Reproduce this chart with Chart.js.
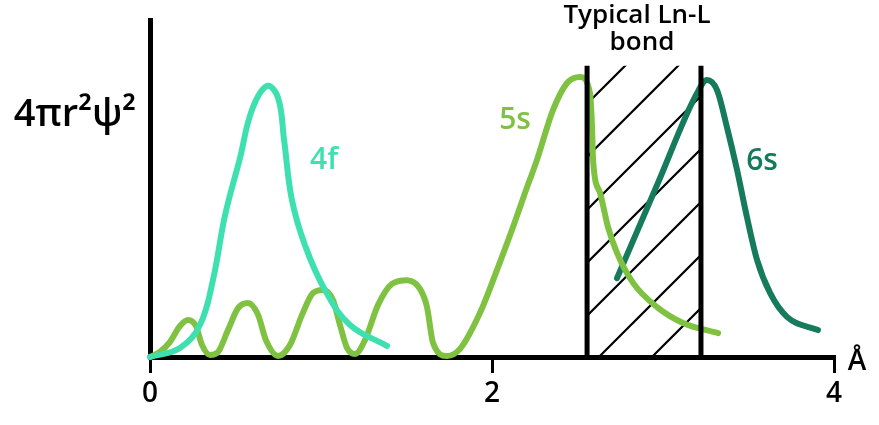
<!DOCTYPE html>
<html>
<head>
<meta charset="utf-8">
<script src="https://cdn.jsdelivr.net/npm/chart.js@4.4.0/dist/chart.umd.min.js"></script>
<style>
html,body{margin:0;padding:0;background:#fff;}
#wrap{width:879px;height:425px;}
</style>
</head>
<body>
<div id="wrap"><canvas id="c" width="879" height="425"></canvas></div>
<script>
// ---- data (x in Å, y in relative units 0..100) ----
const xTicks = [0, 2, 4];
const f4X = [0,0.175,0.292,0.368,0.439,0.526,0.596,0.684,0.749,0.784,0.830,0.906,1.023,1.170,1.386];
const f4Y = [0,2.7,9.5,22.8,42.1,59.0,73.3,80.4,76.9,64.4,46.6,33.2,19.9,9.5,3.3];
const s5X = [0,0.058,0.117,0.175,0.222,0.269,0.304,0.351,0.398,0.456,0.515,0.573,0.632,0.678,0.749,0.819,0.889,0.953,1.012,1.070,1.111,1.152,1.199,1.257,1.333,1.415,1.503,1.579,1.620,1.655,1.737,1.813,1.930,2.029,2.123,2.193,2.263,2.357,2.439,2.515,2.573,2.585,2.591,2.632,2.678,2.731,2.825,2.965,3.117,3.322];
const s5Y = [0,1.5,4.5,9.2,11.0,9.2,3.6,0.6,1.5,8.0,14.5,16.0,12.5,5.0,0.3,3.6,12.5,19.0,19.9,16.9,9.5,2.7,0.9,5.0,15.4,21.7,22.8,20.2,14.8,4.2,0.3,2.4,13.1,25.8,38.6,48.7,58.5,73.3,81.3,83.1,78.3,68.2,58.5,48.7,38.6,30.9,22.0,14.8,10.1,7.1];
const s6X = [2.731,2.965,3.199,3.257,3.316,3.374,3.433,3.491,3.550,3.626,3.725,3.906];
const s6Y = [23.4,51.0,78.3,82.2,79.2,68.2,55.5,41.5,28.8,19.0,11.9,8.0];
const bondBand = [2.556, 3.222];      // typical Ln-L bond region (Å)
const bondTop = 86.4;
const labelTexts = ["4f", "5s", "6s", "Typical Ln-L", "bond", "Å", "4πr²ψ²"];
const labelX = [1.018, 2.135, 3.579, 2.848, 2.877, 4.135, -0.439];
const labelY = [58.2, 70.3, 57.9, 101.4, 93.4, -1.5, 71.8];
const labelColors = ["#3ee0b0", "#7fc241", "#167a5c", "#000", "#000", "#000", "#000"];
const labelSizes = [30, 30, 30, 26, 26, 28, 38];

const pts = (xs, ys) => xs.map((x, i) => ({x, y: ys[i]}));
const FONT = "'Open Sans', 'DejaVu Sans', sans-serif";

const hatchPlugin = {
  id: 'hatch',
  beforeDatasetsDraw(chart) {
    const {ctx, scales: {x, y}} = chart;
    const l = x.getPixelForValue(bondBand[0]), r = x.getPixelForValue(bondBand[1]);
    const t = y.getPixelForValue(bondTop), b = y.getPixelForValue(0);
    ctx.save();
    ctx.beginPath(); ctx.rect(l, t, r - l, b - t); ctx.clip();
    ctx.strokeStyle = '#000'; ctx.lineWidth = 2.2;
    const step = 53;
    for (let y0 = t + 38; y0 < b + (r - l) + step; y0 += step) {
      ctx.beginPath(); ctx.moveTo(l, y0); ctx.lineTo(r, y0 - (r - l)); ctx.stroke();
    }
    ctx.restore();
  }
};
const labelPlugin = {
  id: 'labels',
  afterDraw(chart) {
    const {ctx, scales: {x, y}} = chart;
    ctx.save();
    ctx.textAlign = 'center'; ctx.textBaseline = 'middle';
    labelTexts.forEach((t, i) => {
      ctx.fillStyle = labelColors[i];
      ctx.font = `600 ${labelSizes[i]}px ${FONT}`;
      ctx.fillText(t, x.getPixelForValue(labelX[i]), y.getPixelForValue(labelY[i]));
    });
    ctx.restore();
  }
};

const curve = (data, color, mode) => ({
  data, borderColor: color, borderWidth: 6, pointRadius: 0, fill: false,
  cubicInterpolationMode: mode, tension: 0.4, order: 2, borderCapStyle: 'round'
});
const vline = (xv) => ({
  data: [{x: xv, y: 0}, {x: xv, y: bondTop}], borderColor: '#000', borderWidth: 5,
  pointRadius: 0, tension: 0, order: 0
});

new Chart(document.getElementById('c'), {
  type: 'line',
  data: {
    datasets: [
      curve(pts(f4X, f4Y), '#3ee0b0', 'default'),
      curve(pts(s5X, s5Y), '#7fc241', 'monotone'),
      curve(pts(s6X, s6Y), '#167a5c', 'monotone'),
      vline(bondBand[0]),
      vline(bondBand[1])
    ]
  },
  options: {
    responsive: false, animation: false, clip: false,
    layout: {padding: {left: 150, right: 45, top: 20, bottom: 0}},
    plugins: {legend: {display: false}, tooltip: {enabled: false}},
    scales: {
      x: {
        type: 'linear', min: 0, max: 4,
        afterFit(s) { s.height = 68; },
        afterBuildTicks(s) { s.ticks = xTicks.map(v => ({value: v})); },
        border: {display: true, color: '#000', width: 5},
        grid: {display: true, drawOnChartArea: false, drawTicks: true, tickLength: 16, color: '#000', lineWidth: 3},
        ticks: {color: '#000', padding: 4, font: {family: FONT, size: 28, weight: '600'}}
      },
      y: {
        type: 'linear', min: 0, max: 100,
        afterFit(s) { s.width = 0; },
        border: {display: true, color: '#000', width: 5},
        grid: {display: true, drawOnChartArea: false, drawTicks: false},
        ticks: {display: false}
      }
    }
  },
  plugins: [hatchPlugin, labelPlugin]
});
</script>
</body>
</html>
